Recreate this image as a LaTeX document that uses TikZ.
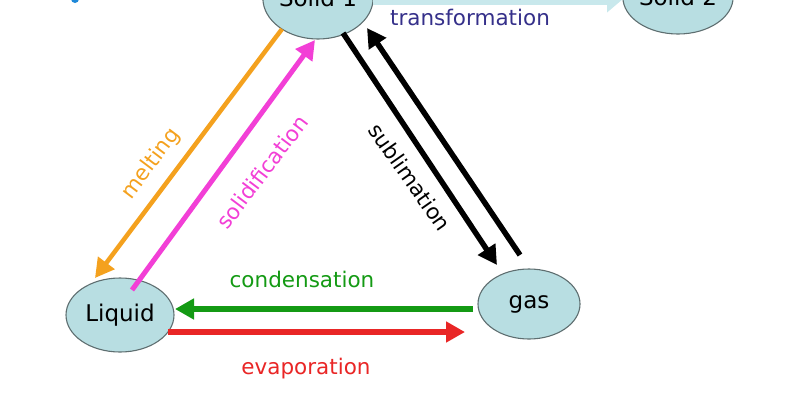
\documentclass[tikz,border=0pt]{standalone}
\usepackage{fontspec}
\setmainfont{DejaVu Sans}
\usetikzlibrary{shapes.geometric,arrows.meta}
\definecolor{efill}{HTML}{B8DEE2}
\definecolor{eline}{HTML}{5E6E70}
\definecolor{cyanarr}{HTML}{C8E8EC}
\definecolor{orangec}{HTML}{F4A11E}
\definecolor{magentac}{HTML}{F23FD6}
\definecolor{greenc}{HTML}{149A14}
\definecolor{redc}{HTML}{E92626}
\definecolor{transc}{HTML}{35308A}
\definecolor{bluedot}{HTML}{1E88D8}
\tikzset{
  phase/.style={ellipse, draw=eline, line width=1.1pt, fill=efill, inner sep=0pt,
    font=\fontsize{23}{26}\selectfont},
  lbl/.style={font=\fontsize{21.5}{24}\selectfont, inner sep=0pt},
  arr/.style={line width=#1, -{Triangle[length=19pt,width=20pt]}},
}
\begin{document}
\begin{tikzpicture}[x=1pt,y=-1pt]
\useasboundingbox (0,0) rectangle (800,400);
\clip (0,0) rectangle (800,400);
\fill[bluedot] (75,-1) circle (4);
% phase nodes
\node[phase, minimum width=110pt, minimum height=82pt] (s1) at (318,-2) {Solid 1};
\node[phase, minimum width=110pt, minimum height=74pt] (s2) at (678,-3) {Solid 2};
\node[phase, minimum width=108pt, minimum height=74pt] (liq) at (120,315) {Liquid};
\node[phase, minimum width=102pt, minimum height=70pt] (gas) at (529,304) {gas};
% transformation arrow
\draw[cyanarr, line width=12pt, -{Triangle[length=16pt,width=26pt]}]
  ([shift={(55,1)}]s1.center) -- ([shift={(-55,2)}]s2.center);
% melting
\draw[orangec, arr=4.5pt] ([shift={(-36,31)}]s1.center) -- ([shift={(-25,-37)}]liq.center);
% solidification
\draw[magentac, arr=5pt] ([shift={(12,-25)}]liq.center) -- ([shift={(-3,42)}]s1.center);
% sublimation
\draw[black, arr=5.5pt] ([shift={(25,35)}]s1.center) -- ([shift={(-32,-39)}]gas.center);
\draw[black, arr=5.5pt] ([shift={(-9,-49)}]gas.center) -- ([shift={(49,30)}]s1.center);
% condensation
\draw[greenc, arr=6pt] ([shift={(-56,5)}]gas.center) -- ([shift={(55,-6)}]liq.center);
% evaporation
\draw[redc, arr=6pt] ([shift={(48,17)}]liq.center) -- ([shift={(-64,28)}]gas.center);
% labels
\node[lbl, text=transc] (tlab) at (470,17) {transformation};
\node[lbl, text=orangec, rotate=53] (mlab) at (151,164) {melting};
\node[lbl, text=magentac, rotate=53] (solab) at (262,172) {solidification};
\node[lbl, text=black, rotate=-55] (sublab) at (410,177) {sublimation};
\node[lbl, text=greenc] (clab) at (302,279) {condensation};
\node[lbl, text=redc] (elab) at (306,369) {evaporation};
\end{tikzpicture}
\end{document}
